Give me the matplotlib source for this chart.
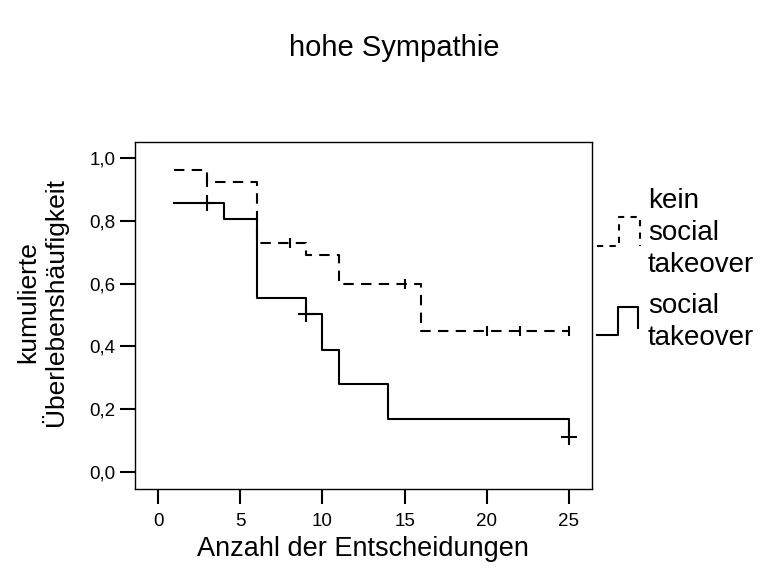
import matplotlib
matplotlib.use('Agg')
import matplotlib.pyplot as plt
from matplotlib.lines import Line2D
from matplotlib.ticker import FuncFormatter

plt.rcParams['font.family'] = ['Liberation Sans', 'DejaVu Sans']

# Kaplan-Meier steps
kein_t = [1, 3, 6, 9, 11, 16, 25]
kein_s = [0.963, 0.923, 0.731, 0.690, 0.598, 0.450, 0.450]
kein_cens_t = [3, 8, 15, 20, 22, 25]
kein_cens_s = [0.923, 0.731, 0.598, 0.450, 0.450, 0.450]

soc_t = [1, 4, 6, 9, 10, 11, 14, 25]
soc_s = [0.856, 0.805, 0.553, 0.503, 0.390, 0.279, 0.167, 0.110]
soc_cens_t = [3, 9, 25]
soc_cens_s = [0.856, 0.503, 0.110]

x_ticks = [0, 5, 10, 15, 20, 25]
y_ticks = [0.0, 0.2, 0.4, 0.6, 0.8, 1.0]

W, H = 761, 580
fig = plt.figure(figsize=(W / 100, H / 100), dpi=100)
ax = fig.add_axes([135 / W, 1 - 489 / H, (592 - 135) / W, (489 - 142) / H])

ax.step(kein_t, kein_s, where='post', color='black', lw=1.5, linestyle=(0, (5, 3.5)))
ax.plot(kein_cens_t, kein_cens_s, linestyle='none', marker='|', color='black',
        markersize=7, markeredgewidth=1.5)
ax.step(soc_t, soc_s, where='post', color='black', lw=1.5)
ax.plot(soc_cens_t, soc_cens_s, linestyle='none', marker='+', color='black',
        markersize=11, markeredgewidth=1.5)

ax.set_xlim(-1.4, 26.4)
ax.set_ylim(-0.055, 1.052)
ax.set_xticks(x_ticks)
ax.set_yticks(y_ticks)
ax.yaxis.set_major_formatter(FuncFormatter(lambda v, p: f'{v:.1f}'.replace('.', ',')))
ax.tick_params(axis='both', direction='out', length=11, width=1.5, labelsize=13.5)
ax.tick_params(axis='x', pad=6)
ax.tick_params(axis='y', pad=3)
for sp in ax.spines.values():
    sp.set_linewidth(1.0)

fig.text(394 / W, 1 - 48 / H, 'hohe Sympathie', ha='center', va='center', fontsize=21)
fig.text(363 / W, 1 - 549 / H, 'Anzahl der Entscheidungen', ha='center', va='center', fontsize=19.5)
fig.text(42 / W, 1 - 302 / H, 'kumulierte\nÜberlebenshäufigkeit', rotation=90,
         ha='center', va='center', multialignment='center', fontsize=19, linespacing=1.05)

# legend drawn beside the plot
def fx(px):
    return [p / W for p in px]

def fy(py):
    return [1 - p / H for p in py]

fig.add_artist(Line2D(fx([597, 619, 619, 640, 640]), fy([246, 246, 217, 217, 246]),
                      transform=fig.transFigure, color='black', lw=1.5,
                      linestyle=(0, (3, 3))))
fig.add_artist(Line2D(fx([597, 618, 618, 638, 638]), fy([335, 335, 307, 307, 328]),
                      transform=fig.transFigure, color='black', lw=1.5))
fig.text(648 / W, 1 - 233 / H, 'kein\nsocial\ntakeover', ha='left', va='center',
         fontsize=20, linespacing=1.32)
fig.text(648 / W, 1 - 322 / H, 'social\ntakeover', ha='left', va='center',
         fontsize=20, linespacing=1.32)

fig.savefig('out.png', dpi=100)
